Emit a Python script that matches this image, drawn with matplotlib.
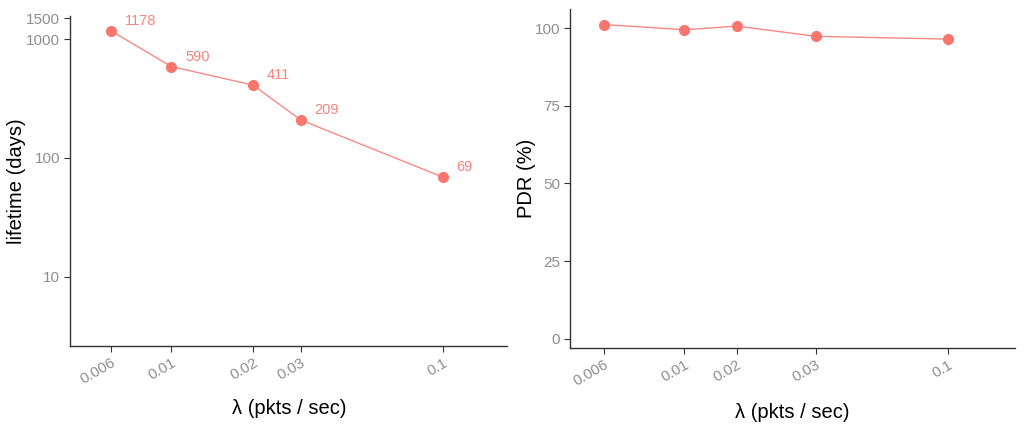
import matplotlib
matplotlib.use("Agg")
import matplotlib.pyplot as plt
from matplotlib.ticker import FixedLocator, NullLocator

plt.rcParams['font.family'] = ['Liberation Sans', 'DejaVu Sans']

# data
rates = [0.006, 0.01, 0.02, 0.03, 0.1]
rate_labels = ["0.006", "0.01", "0.02", "0.03", "0.1"]
lifetime = [1178, 590, 411, 209, 69]
life_ticks = [10, 100, 1000, 1500]
# right panel: x positions of the same rates as they sit on its axis
pdr_pos = [1, 2, 2.65, 3.64, 5.29]
pdr = [101.2, 99.5, 100.7, 97.4, 96.5]
pdr_ticks = [0, 25, 50, 75, 100]

red = "#F8766D"
tick_col = "#8f8f8f"
W, H = 1024, 432
TICK_FS = 11

fig = plt.figure(figsize=(W / 100, H / 100), dpi=100)


def style(ax):
    for s in ["top", "right"]:
        ax.spines[s].set_visible(False)
    for s in ["left", "bottom"]:
        ax.spines[s].set_color("#333333")
        ax.spines[s].set_linewidth(1.0)
    ax.tick_params(axis="both", colors="#333333", labelcolor=tick_col,
                   length=4, width=0.8, pad=3)
    ax.xaxis.set_minor_locator(NullLocator())
    ax.yaxis.set_minor_locator(NullLocator())


def fig_text(x, y, s, **kw):
    # place text in figure pixels from top-left
    fig.text(x / W, 1 - y / H, s, ha="center", va="center", **kw)


# %% left panel - lifetime
ax1 = fig.add_axes([70 / W, (H - 346) / H, (507 - 70) / W, (346 - 16) / H])
ax1.set_xscale("log")
ax1.set_yscale("log")
ax1.plot(rates, lifetime, color=red, lw=1.0, alpha=0.85)
ax1.plot(rates, lifetime, "o", color=red, ms=7, mec=red)
for x, y in zip(rates, lifetime):
    ax1.annotate(str(y), (x, y), xytext=(10, 7), textcoords="offset points",
                 ha="left", va="center", color=red, fontsize=10.5, alpha=0.9)
ax1.set_xlim(0.00423, 0.1726)
ax1.set_ylim(2.6, 1573)
style(ax1)
ax1.xaxis.set_major_locator(FixedLocator(rates))
ax1.set_xticklabels(rate_labels, rotation=30, ha="right",
                    rotation_mode="anchor", fontsize=TICK_FS, color=tick_col)
ax1.yaxis.set_major_locator(FixedLocator(life_ticks))
ax1.set_yticklabels([str(t) for t in life_ticks], fontsize=TICK_FS, color=tick_col)
ax1.xaxis.set_minor_locator(NullLocator())
ax1.yaxis.set_minor_locator(NullLocator())
fig_text(289, 408, "\u03bb (pkts / sec)", fontsize=14.5)
fig_text(17, 181, "lifetime (days)", fontsize=14.5, rotation=90)

# %% right panel - PDR
ax2 = fig.add_axes([570 / W, (H - 348) / H, (1015 - 570) / W, (348 - 9) / H])
ax2.plot(pdr_pos, pdr, color=red, lw=1.0, alpha=0.85)
ax2.plot(pdr_pos, pdr, "o", color=red, ms=7, mec=red)
ax2.set_xlim(0.575, 6.12)
ax2.set_ylim(-3.0, 106.2)
style(ax2)
ax2.xaxis.set_major_locator(FixedLocator(pdr_pos))
ax2.set_xticklabels(rate_labels, rotation=30, ha="right",
                    rotation_mode="anchor", fontsize=TICK_FS, color=tick_col)
ax2.yaxis.set_major_locator(FixedLocator(pdr_ticks))
ax2.set_yticklabels([str(t) for t in pdr_ticks], fontsize=TICK_FS, color=tick_col)
fig_text(792, 412, "\u03bb (pkts / sec)", fontsize=14.5)
fig_text(527, 178, "PDR (%)", fontsize=14.5, rotation=90)

fig.savefig("out.png", dpi=100, facecolor="white")
